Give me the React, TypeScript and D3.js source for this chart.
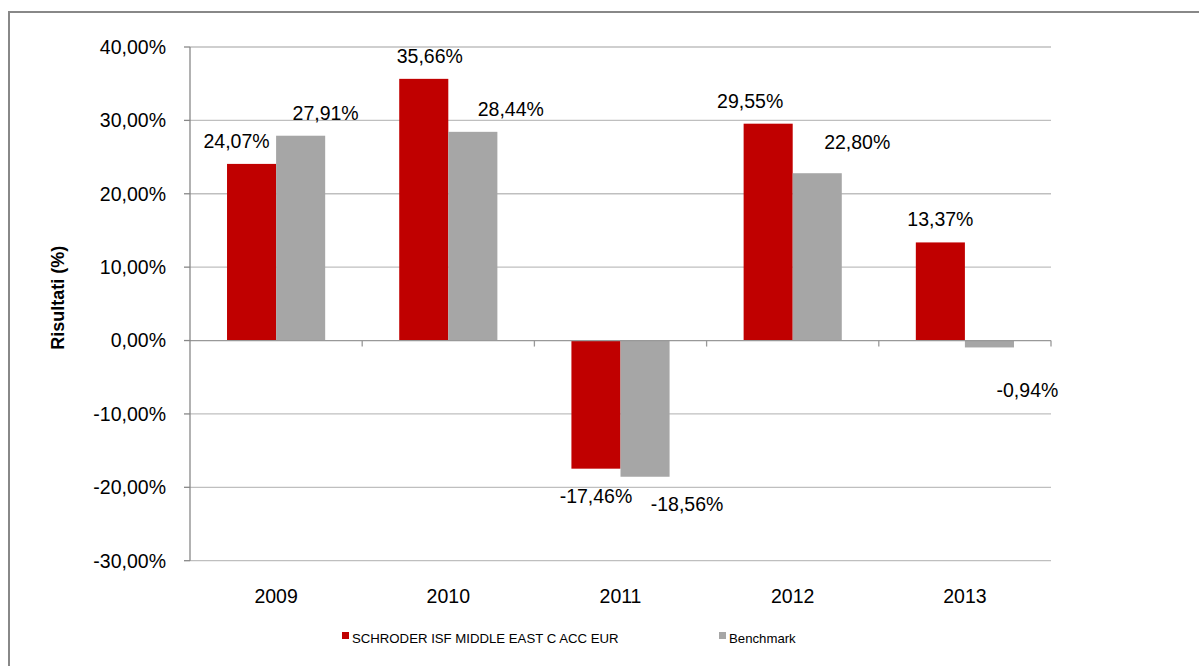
import React from "react";
import * as d3 from "d3";

const years = ["2009", "2010", "2011", "2012", "2013"];
const fundValues = [24.07, 35.66, -17.46, 29.55, 13.37];
const benchValues = [27.91, 28.44, -18.56, 22.8, -0.94];
const seriesNames = ["SCHRODER ISF MIDDLE EAST C ACC EUR", "Benchmark"];
const yTicks = [40, 30, 20, 10, 0, -10, -20, -30];

// label nudges (layout only)
const fundLabelDx = [-15, 6, 0, -18, 0];
const benchLabelDx = [25, 38, 42, 40, 38];
const benchLabelDy = [0, 0, 0, -8, 16];

const W = 1199;
const H = 666;
const left = 190;
const right = 1051;
const top = 47;
const bottom = 560.7;
const colors = ["#C00000", "#A6A6A6"];
const font = "Liberation Sans, Arial, sans-serif";

const fmt = (v: number) => v.toFixed(2).replace(".", ",") + "%";

export default function App() {
  const y = d3.scaleLinear().domain([-30, 40]).range([bottom, top]);
  const x0 = d3.scaleBand<string>().domain(years).range([left, right]).paddingInner(0).paddingOuter(0);
  const groupW = x0.bandwidth() * 0.57;
  const x1 = d3
    .scaleBand<string>()
    .domain(["fund", "bench"])
    .range([0, groupW]);
  const bw = x1.bandwidth();
  const y0 = y(0);

  const series = [
    { key: "fund", values: fundValues, dx: fundLabelDx, dy: years.map(() => 0) },
    { key: "bench", values: benchValues, dx: benchLabelDx, dy: benchLabelDy },
  ];

  return (
    <svg
      width={W}
      height={H}
      style={{ position: "absolute", left: 0, top: 0, display: "block", background: "#fff" }}
    >
      <rect x={9} y={12} width={1400} height={900} fill="#fff" stroke="#888" strokeWidth={2} />
      {yTicks.map((t) => (
        <g key={t}>
          {t !== 0 && (
            <line x1={left} x2={right} y1={y(t)} y2={y(t)} stroke="#BFBFBF" strokeWidth={1.3} />
          )}
          <line x1={left - 6} x2={left} y1={y(t)} y2={y(t)} stroke="#888" strokeWidth={1.3} />
          <text
            x={166}
            y={y(t)}
            dy="0.35em"
            textAnchor="end"
            fontFamily={font}
            fontSize={19.5}
            fill="#000"
          >
            {t.toFixed(2).replace(".", ",") + "%"}
          </text>
        </g>
      ))}
      {series.map((s, si) =>
        s.values.map((v, i) => {
          const bx = (x0(years[i]) as number) + (x0.bandwidth() - groupW) / 2 + (x1(s.key) as number);
          const yTop = v >= 0 ? y(v) : y0;
          const h = Math.abs(y(v) - y0);
          return (
            <rect key={s.key + i} x={bx} y={yTop} width={bw} height={h} fill={colors[si]} />
          );
        })
      )}
      <line x1={left} x2={right} y1={y0} y2={y0} stroke="#999" strokeWidth={1.3} />
      {years.map((yr, i) => (
        <line
          key={"ct" + yr}
          x1={(x0(yr) as number) + x0.bandwidth()}
          x2={(x0(yr) as number) + x0.bandwidth()}
          y1={y0}
          y2={y0 + 6}
          stroke="#999"
          strokeWidth={1.3}
        />
      ))}
      <line x1={left} x2={left} y1={top} y2={bottom} stroke="#888" strokeWidth={1.3} />
      {series.map((s, si) =>
        s.values.map((v, i) => {
          const bx = (x0(years[i]) as number) + (x0.bandwidth() - groupW) / 2 + (x1(s.key) as number);
          const cx = bx + bw / 2 + s.dx[i];
          const ly = v >= 0 ? y(v) - 16 + s.dy[i] : y(v) + 34 + s.dy[i];
          return (
            <text
              key={"l" + s.key + i}
              x={cx}
              y={ly}
              textAnchor="middle"
              fontFamily={font}
              fontSize={19.5}
              fill="#000"
            >
              {fmt(v)}
            </text>
          );
        })
      )}
      {years.map((yr) => (
        <text
          key={"yl" + yr}
          x={(x0(yr) as number) + x0.bandwidth() / 2}
          y={603}
          textAnchor="middle"
          fontFamily={font}
          fontSize={19.5}
          fill="#000"
        >
          {yr}
        </text>
      ))}
      <text
        transform={`translate(64, ${(top + bottom) / 2 - 6}) rotate(-90)`}
        textAnchor="middle"
        fontFamily={font}
        fontSize={18}
        fontWeight="bold"
        fill="#000"
      >
        Risultati (%)
      </text>
      {seriesNames.map((n, i) => {
        const lx = i === 0 ? 342 : 719;
        return (
          <g key={n}>
            <rect x={lx} y={632} width={7} height={7} fill={colors[i]} />
            <text x={lx + 10} y={643} fontFamily={font} fontSize={13.2} fill="#000">
              {n}
            </text>
          </g>
        );
      })}
    </svg>
  );
}
